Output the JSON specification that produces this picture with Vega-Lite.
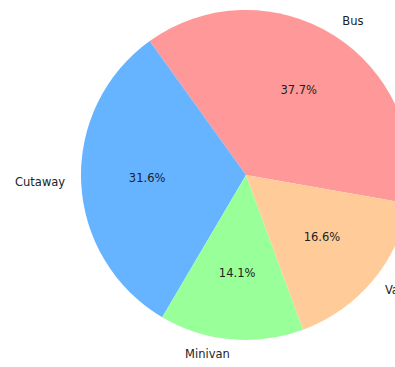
{
  "$schema": "https://vega.github.io/schema/vega-lite/v6.json",
  "width": 298,
  "height": 350,
  "autosize": "none",
  "padding": {"left": 97, "top": 0, "right": 0, "bottom": 17},
  "background": "white",
  "config": {"view": {"stroke": null}, "text": {"font": "DejaVu Sans", "fontSize": 11.5, "color": "#222222"}},
  "data": {
    "values": [
      {"type": "Bus", "share": 0.377},
      {"type": "Cutaway", "share": 0.316},
      {"type": "Minivan", "share": 0.141},
      {"type": "Van", "share": 0.166}
    ]
  },
  "encoding": {
    "theta": {"field": "share", "type": "quantitative", "stack": true, "scale": {"range": [1.7453, 8.0285]}},
    "order": {"field": "type", "sort": "descending"}
  },
  "layer": [
    {
      "mark": {"type": "arc", "outerRadius": 165},
      "encoding": {
        "color": {"field": "type", "type": "nominal", "legend": null,
          "scale": {"domain": ["Bus", "Cutaway", "Minivan", "Van"], "range": ["#ff9999", "#66b3ff", "#99ff99", "#ffcc99"]}}
      }
    },
    {
      "mark": {"type": "text", "radius": 99, "baseline": "middle", "align": "center"},
      "encoding": {"text": {"field": "share", "type": "quantitative", "format": ".1%"}}
    },
    {
      "mark": {"type": "text", "radius": 181, "baseline": "middle", "align": "left"},
      "encoding": {"text": {"condition": {"test": "datum.type === 'Bus' || datum.type === 'Van'", "field": "type"}, "value": ""}}
    },
    {
      "mark": {"type": "text", "radius": 181, "baseline": "middle", "align": "right"},
      "encoding": {"text": {"condition": {"test": "datum.type === 'Cutaway' || datum.type === 'Minivan'", "field": "type"}, "value": ""}}
    }
  ]
}
